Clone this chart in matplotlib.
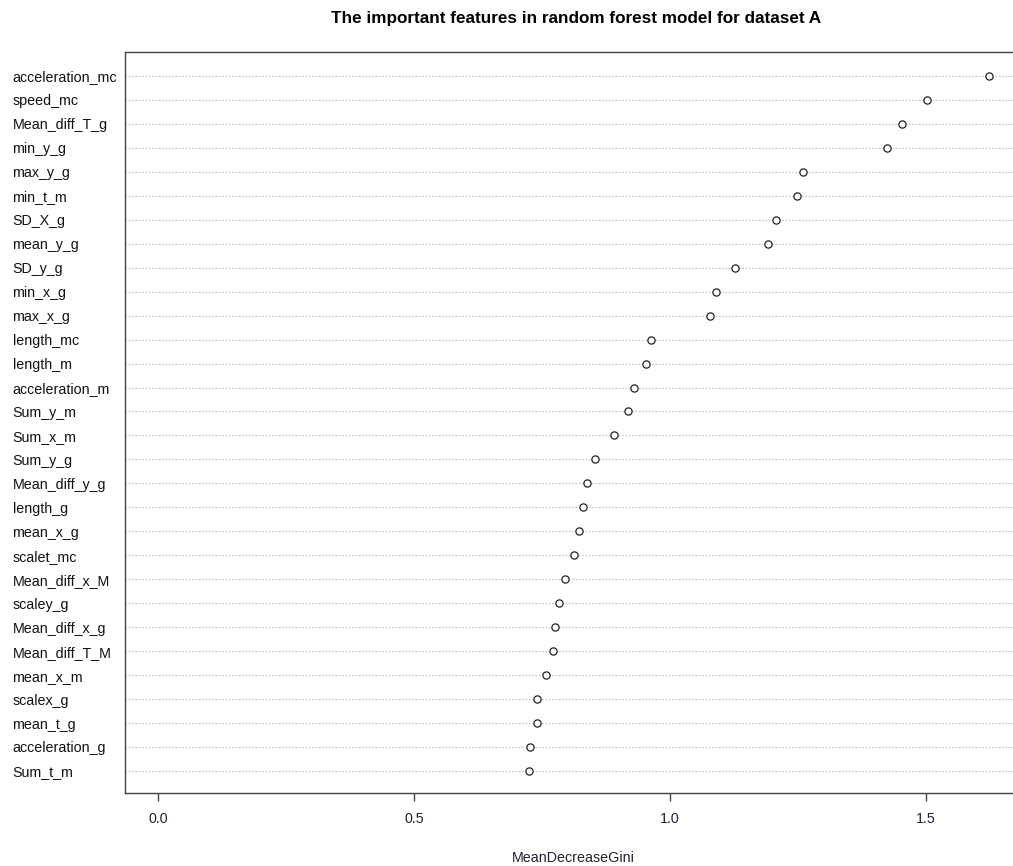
import matplotlib
matplotlib.use("Agg")
import matplotlib.pyplot as plt

# features, top to bottom as shown in the chart
features = ["acceleration_mc", "speed_mc", "Mean_diff_T_g", "min_y_g", "max_y_g",
            "min_t_m", "SD_X_g", "mean_y_g", "SD_y_g", "min_x_g", "max_x_g",
            "length_mc", "length_m", "acceleration_m", "Sum_y_m", "Sum_x_m",
            "Sum_y_g", "Mean_diff_y_g", "length_g", "mean_x_g", "scalet_mc",
            "Mean_diff_x_M", "scaley_g", "Mean_diff_x_g", "Mean_diff_T_M",
            "mean_x_m", "scalex_g", "mean_t_g", "acceleration_g", "Sum_t_m"]
gini = [1.623, 1.503, 1.454, 1.424, 1.260,
        1.248, 1.207, 1.191, 1.127, 1.090, 1.078,
        0.963, 0.953, 0.930, 0.918, 0.891,
        0.854, 0.838, 0.830, 0.823, 0.813,
        0.794, 0.783, 0.776, 0.772,
        0.757, 0.741, 0.740, 0.727, 0.725]
xticks = [0.0, 0.5, 1.0, 1.5]
xtick_labels = ["0.0", "0.5", "1.0", "1.5"]

plt.rcParams['font.family'] = ['Liberation Sans', 'DejaVu Sans']

W, H = 1013, 866
fig = plt.figure(figsize=(W / 100, H / 100), dpi=100)
# axes box in pixels: left 125, right 1022 (cut off), top 52, bottom 793
ax = fig.add_axes([125 / W, 1 - 793 / H, (1022 - 125) / W, (793 - 52) / H])

n = len(features)
ypos = list(range(n, 0, -1))  # first feature on top

for y in ypos:
    ax.axhline(y, color="#c4c4c4", linestyle=(0, (1.5, 1.5)), linewidth=0.8, zorder=1)
ax.plot(gini, ypos, linestyle="none", marker="o", markersize=5.2,
        markerfacecolor="white", markeredgecolor="#222222", markeredgewidth=0.9, zorder=3)

ax.set_xlim(-0.065, 1.688)
ax.set_ylim(0.08, 31.0)

ax.set_xticks(xticks)
ax.set_xticklabels(xtick_labels)
ax.tick_params(axis="x", length=6, width=1, color="#444444", pad=8,
               labelsize=10.3, labelcolor="#222233")

ax.set_yticks(ypos)
ax.set_yticklabels(features)
ax.tick_params(axis="y", length=0, pad=81, labelsize=10.3, labelcolor="#111111")
for lab in ax.get_yticklabels():
    lab.set_horizontalalignment("left")

for s in ax.spines.values():
    s.set_color("#444444")
    s.set_linewidth(1.0)

ax.set_xlabel("MeanDecreaseGini", fontsize=10.3, color="#222233", labelpad=18)
fig.text(576 / W, 1 - 18 / H, "The important features in random forest model for dataset A",
         ha="center", va="center", fontsize=12.3, fontweight="bold")

fig.savefig("out.png", dpi=100)
